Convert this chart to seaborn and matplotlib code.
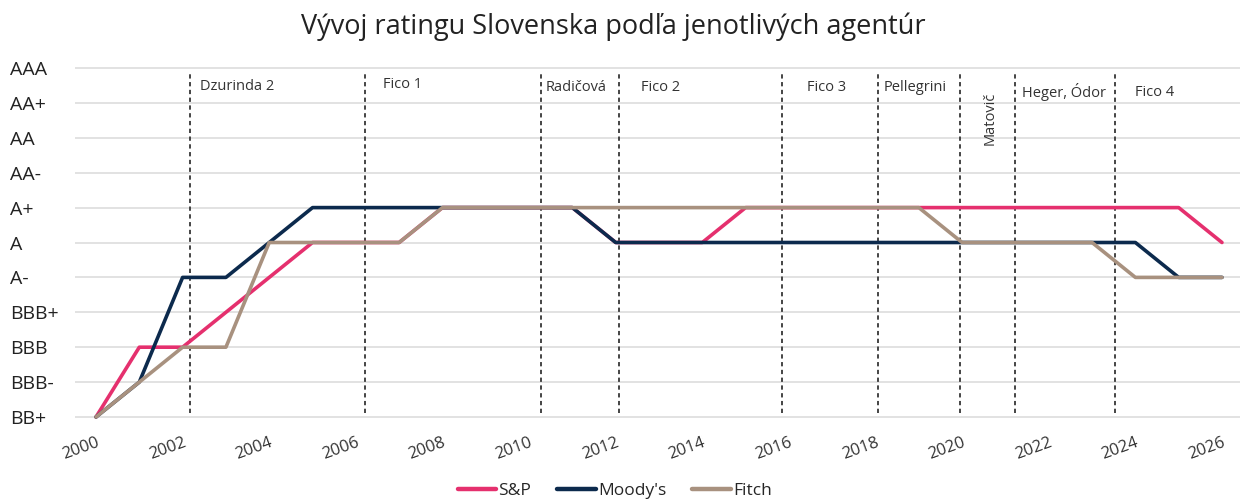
import numpy as np
import pandas as pd
import matplotlib
matplotlib.use("Agg")
import matplotlib.pyplot as plt
import seaborn as sns

# ratingová škála (0 = BB+, 10 = AAA)
ratings = ["BB+", "BBB-", "BBB", "BBB+", "A-", "A", "A+", "AA-", "AA", "AA+", "AAA"]

years = list(range(2000, 2027))
sp = [0, 2, 2, 3, 4, 5, 5, 5, 6, 6, 6, 6, 5, 5, 5, 6, 6, 6, 6, 6, 6, 6, 6, 6, 6, 6, 5]
moodys = [0, 1, 4, 4, 5, 6, 6, 6, 6, 6, 6, 6, 5, 5, 5, 5, 5, 5, 5, 5, 5, 5, 5, 5, 5, 4, 4]
fitch = [0, 1, 2, 2, 5, 5, 5, 5, 6, 6, 6, 6, 6, 6, 6, 6, 6, 6, 6, 6, 5, 5, 5, 5, 4, 4, 4]

# vlády - začiatok obdobia (deliace čiary) a popisy
gov_lines = [2002.17, 2006.21, 2010.27, 2012.08, 2015.84, 2018.06, 2019.95, 2021.22, 2023.53]
gov_names = ["Dzurinda 2", "Fico 1", "Radičová", "Fico 2", "Fico 3", "Pellegrini",
             "Matovič", "Heger, Ódor", "Fico 4"]
gov_label_x = [2002.40, 2006.63, 2010.39, 2012.58, 2016.42, 2018.19, 2020.64, 2021.38, 2023.99]
gov_label_y = [9.48, 9.54, 9.43, 9.43, 9.43, 9.43, 8.57, 9.31, 9.31]

agencies = ["S&P", "Moody's", "Fitch"]
colors = ["#E5306E", "#0C2A4D", "#A8917F"]

df = pd.DataFrame({"rok": years, "S&P": sp, "Moody's": moodys, "Fitch": fitch})
df_long = df.melt(id_vars="rok", var_name="agentura", value_name="rating")

sns.set_style("white")
plt.rcParams['font.family'] = ['Open Sans', 'DejaVu Sans']

fig = plt.figure(figsize=(12.42, 5), dpi=100)
ax = fig.add_axes([75 / 1242, 1 - 421 / 500, 1165 / 1242, 357 / 500])

ax.set_yticks(range(len(ratings)))
ax.yaxis.grid(True, color="#dddddd", linewidth=1.2)
ax.set_axisbelow(True)

ax.vlines(gov_lines, 0.1, 9.87, colors="#444444", linestyles=(0, (2.2, 1.8)), linewidth=1.4, zorder=1)

sns.lineplot(data=df_long, x="rok", y="rating", hue="agentura", hue_order=agencies,
             palette=colors, linewidth=2.6, ax=ax, legend=False, zorder=3)

for x, y, name in zip(gov_label_x, gov_label_y, gov_names):
    if name == "Matovič":
        ax.text(x, y, name, rotation=90, ha="center", va="center", fontsize=10.5, color="#333333")
    else:
        ax.text(x, y, name, ha="left", va="center", fontsize=10.5, color="#333333")

ax.set_xlim(1999.515, 2026.416)
ax.set_ylim(-0.115, 10.115)
ax.set_xticks(range(2000, 2027, 2))
ax.set_xticklabels([str(y) for y in range(2000, 2027, 2)], rotation=20, ha="right",
                   rotation_mode="anchor", fontsize=12, color="#333333")
ax.set_yticklabels(ratings, fontsize=14, color="#222222", ha="left")
ax.tick_params(axis="y", length=0, pad=47)
ax.tick_params(axis="x", length=0, pad=10)
ax.set_xlabel("")
ax.set_ylabel("")
sns.despine(ax=ax, left=True, bottom=True)

fig.suptitle("Vývoj ratingu Slovenska podľa jenotlivých agentúr", x=0.494, y=0.975,
             fontsize=19.5, color="#222222")

handles = [plt.Line2D([], [], color=c, linewidth=3.2) for c in colors]
fig.legend(handles, agencies, loc="center", bbox_to_anchor=(0.495, 0.018), ncol=3, frameon=False,
           fontsize=12.5, handlelength=2.2, handletextpad=0.15, columnspacing=1.5)

fig.savefig("out.png", dpi=100)
